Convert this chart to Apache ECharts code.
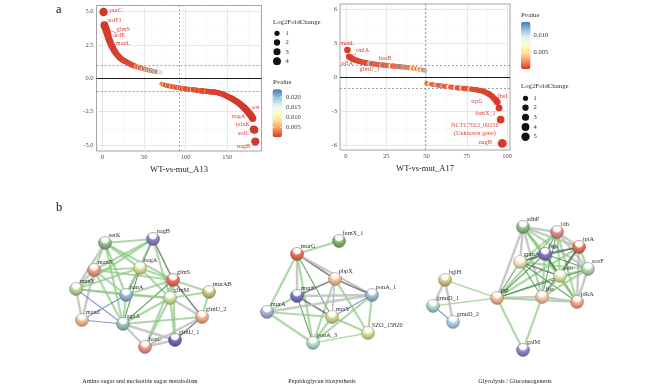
<!DOCTYPE html>
<html><head><meta charset="utf-8">
<script src="https://cdn.jsdelivr.net/npm/echarts@6/dist/echarts.min.js"></script>
<style>html,body{margin:0;padding:0;background:#fff}#c{width:660px;height:386px}</style>
</head><body><div id="c"></div>
<script>
// ---------------- DATA ----------------
// Panel a, left: WT-vs-mut_A13 (rank order, log2 fold change, p-value)
const fcA13 = [
 4.97,3.98,3.82,3.68,3.45,3.25,3.05,2.85,2.7,2.55,
 2.42,2.3,2.18,2.07,1.97,1.88,1.8,1.72,1.65,1.58,
 1.52,1.47,1.42,1.38,1.34,1.3,1.27,1.24,1.21,1.18,
 1.13,1.1,1.07,1.04,1.01,0.98,0.96,0.93,0.91,0.89,
 0.87,0.85,0.83,0.81,0.79,0.77,0.75,0.73,0.71,0.69,
 0.67,0.66,0.64,0.63,0.61,0.6,0.58,0.57,0.56,0.54,
 0.53,0.52,0.5,0.49,0.48,0.47,0.46,0.45,0.43,0.42,
 -0.42,-0.45,-0.47,-0.49,-0.51,-0.52,-0.54,-0.55,-0.57,-0.58,
 -0.59,-0.61,-0.62,-0.63,-0.64,-0.66,-0.67,-0.68,-0.69,-0.7,
 -0.71,-0.72,-0.73,-0.74,-0.75,-0.76,-0.77,-0.78,-0.79,-0.8,
 -0.81,-0.82,-0.82,-0.83,-0.84,-0.85,-0.85,-0.86,-0.87,-0.87,
 -0.88,-0.89,-0.9,-0.9,-0.91,-0.92,-0.93,-0.93,-0.94,-0.95,
 -0.95,-0.96,-0.97,-0.97,-0.98,-0.99,-0.99,-1.0,-1.01,-1.01,
 -1.02,-1.03,-1.03,-1.04,-1.05,-1.05,-1.06,-1.07,-1.08,-1.1,
 -1.12,-1.14,-1.16,-1.18,-1.2,-1.23,-1.26,-1.29,-1.32,-1.35,
 -1.38,-1.41,-1.44,-1.47,-1.5,-1.53,-1.57,-1.61,-1.65,-1.69,
 -1.73,-1.77,-1.81,-1.86,-1.91,-1.96,-2.01,-2.06,-2.12,-2.18,
 -2.24,-2.3,-2.37,-2.44,-2.51,-2.58,-2.66,-2.74,-2.82,-2.9,
 -3.02,-3.83,-3.88,-4.75
];
const pA13 = [
 0.0001,0.0002,0.0002,0.0001,0.0003,0.0002,0.0004,0.0003,0.0002,0.0004,
 0.0003,0.0005,0.0002,0.0004,0.0006,0.0003,0.0005,0.0004,0.0007,0.0005,
 0.0006,0.0004,0.0008,0.0005,0.0007,0.0006,0.0009,0.0005,0.0011,0.0007,
 0.0008,0.0006,0.0012,0.0007,0.0009,0.0008,0.0015,0.0009,0.0011,0.0008,
 0.0135,0.001,0.0012,0.0168,0.0009,0.0014,0.0189,0.001,0.0088,0.0011,
 0.0205,0.0012,0.0122,0.0013,0.0176,0.001,0.0098,0.0215,0.0012,0.0156,
 0.0011,0.0182,0.0019,0.0142,0.0012,0.0198,0.0015,0.0164,0.0118,0.0172,
 0.0013,0.006,0.0011,0.009,0.0012,0.0018,0.001,0.007,0.0013,0.0011,
 0.0022,0.0009,0.008,0.0012,0.0014,0.001,0.006,0.0011,0.0009,0.0018,
 0.001,0.009,0.0012,0.0009,0.005,0.0011,0.0009,0.007,0.0012,0.0008,
 0.0015,0.001,0.0009,0.005,0.0011,0.0008,0.0012,0.008,0.0009,0.0008,
 0.0012,0.0008,0.004,0.0007,0.001,0.0009,0.0007,0.004,0.0008,0.0009,
 0.0006,0.0011,0.0007,0.0006,0.005,0.0007,0.0008,0.0005,0.0007,0.0006,
 0.0005,0.0008,0.0006,0.0005,0.0007,0.0005,0.0004,0.0006,0.0005,0.0004,
 0.0005,0.0004,0.0004,0.0005,0.0004,0.0003,0.0004,0.0003,0.0003,0.0004,
 0.0003,0.0004,0.0002,0.0003,0.0003,0.0002,0.0003,0.0002,0.0002,0.0003,
 0.0002,0.0002,0.0002,0.0001,0.0002,0.0001,0.0002,0.0001,0.0001,0.0002,
 0.0001,0.0001,0.0001,0.0001,0.0001,0.0001,0.0001,0.0001,0.0001,0.0001,
 0.0001,0.0001,0.0001,0.0001
];
const genesA13 = [[1,'purC'],[2,'ardF1'],[4,'glmS'],[6,'ardE'],[8,'manL'],[180,'pst'],[181,'nagA'],[182,'pdxK'],[183,'ardC'],[184,'nagB']];
const midA13 = 92;

// Panel a, right: WT-vs-mut_A17
const fcA17 = [
 2.38,1.8,1.72,1.62,1.55,1.5,1.45,1.41,1.37,1.33,
 1.3,1.27,1.25,1.22,1.2,1.18,1.16,1.14,1.12,1.1,
 1.09,1.07,1.06,1.04,1.03,1.01,1.0,0.99,0.98,0.97,
 0.95,0.94,0.92,0.91,0.89,0.88,0.86,0.84,0.82,0.8,
 0.78,0.76,0.74,0.72,0.7,0.67,0.64,0.61,0.57,
 -0.56,-0.59,-0.62,-0.64,-0.67,-0.69,-0.71,-0.73,-0.75,-0.77,
 -0.79,-0.81,-0.83,-0.85,-0.87,-0.89,-0.91,-0.92,-0.94,-0.95,
 -0.97,-0.98,-0.99,-1.0,-1.02,-1.03,-1.04,-1.06,-1.07,-1.09,
 -1.11,-1.13,-1.16,-1.19,-1.22,-1.26,-1.31,-1.37,-1.44,-1.52,
 -1.62,-1.75,-1.9,-2.05,-2.2,-2.74,-3.77,-5.86
];
const pA17 = [
 0.0001,0.0002,0.0003,0.0002,0.0004,0.0003,0.0005,0.0004,0.0006,0.0005,
 0.0007,0.0008,0.0006,0.0009,0.0112,0.001,0.0008,0.0012,0.0009,0.0011,
 0.0008,0.0121,0.0013,0.001,0.0015,0.0009,0.0014,0.0092,0.0011,0.0016,
 0.0012,0.0018,0.0131,0.0014,0.0017,0.0124,0.002,0.0015,0.0022,0.0018,
 0.0065,0.0016,0.0052,0.0014,0.0078,0.002,0.0058,0.0017,0.0118,
 0.0018,0.0013,0.0052,0.0015,0.0012,0.0017,0.0112,0.0014,0.0011,0.0016,
 0.0122,0.0013,0.001,0.0015,0.0068,0.001,0.0013,0.0008,0.0098,0.0011,
 0.0008,0.0012,0.0045,0.0009,0.0007,0.001,0.0006,0.0038,0.0008,0.0005,
 0.0007,0.0004,0.0006,0.0005,0.0004,0.0005,0.0003,0.0004,0.0003,0.0003,
 0.0002,0.0003,0.0002,0.0002,0.0001,0.0001,0.0001,0.0001
];
const genesA17 = [[1,'manL'],[2,'rmlA'],[4,'pflA'],[8,'glmU_1'],[20,'hasB'],[93,'trpG'],[94,'fhsI'],[95,'femX_1'],[96,'NCTC7022_00256\n(Unknown gene)'],[97,'nagB']];
const midA17 = 49.5;

const xTicksA13 = [0,50,100,150];
const yTicksA13 = [-5,-2.5,0,2.5,5];
const xTicksA17 = [0,25,50,75,100];
const yTicksA17 = [-6,-3,0,3,6];
const sizeBreaksA13 = [1,2,3,4];
const sizeBreaksA17 = [1,2,3,4,5];
const pBreaksA13 = [0.005,0.010,0.015,0.020];
const pBreaksA17 = [0.005,0.010];

// Panel b: STRING networks  [gene, x, y] on a page-sized value scale
const net1Nodes = [['serK',105,243],['nagB',153,239],['manX',94,270],['nagA',140,268],['glmS',173,280],['manY',76,289],['nanA',126,295],['glmM',170,298],['murAB',209,292],['manZ',82,320],['agaA',123,324],['glmU_2',202,317],['glmU_1',175,340],['hasC',145,347]];
const net1Edges = [['serK','nagB','g'],['serK','manX','g'],['serK','nagA','g'],['serK','glmS','g'],['serK','manY','y'],['serK','nanA','g'],['serK','agaA','g'],
 ['nagB','nagA','k'],['nagB','glmS','k'],['nagB','manX','g'],['nagB','nanA','g'],['nagB','manY','g'],['nagB','glmM','g'],
 ['manX','manY','y'],['manX','manZ','y'],['manX','nagA','g'],['manX','nanA','g'],['manX','agaA','g'],['manX','glmS','g'],
 ['nagA','glmS','g'],['nagA','nanA','g'],['nagA','glmM','g'],['nagA','agaA','d'],['nagA','manY','g'],
 ['glmS','glmM','g'],['glmS','glmU_2','k'],['glmS','nanA','g'],['glmS','agaA','d'],['glmS','hasC','g'],['glmS','glmU_1','g'],['glmS','murAB','g'],
 ['manY','manZ','y'],['manY','nanA','g'],['manY','agaA','b'],['manY','glmM','g'],
 ['nanA','glmM','g'],['nanA','agaA','g'],['nanA','manZ','b'],
 ['glmM','murAB','g'],['glmM','glmU_2','y'],['glmM','glmU_1','g'],['glmM','hasC','g'],['glmM','agaA','g'],
 ['murAB','glmU_2','g'],['manZ','agaA','b'],['agaA','hasC','y'],['agaA','glmU_1','y'],['glmU_2','glmU_1','k'],['glmU_2','hasC','y'],['hasC','glmU_1','y'],['agaA','glmU_2','g']];
const net2Nodes = [['femX_1',339,241],['murG',297,254],['pbpX',335,279],['murE',297,296],['ponA_1',372,295],['murA',267,312],['mraY',332,317],['SZO_15820',368,333],['ponA_3',313,343]];
const net2Edges = [['femX_1','murG','g'],['murG','pbpX','k'],['murG','murE','y'],['murG','murA','g'],['murG','mraY','d'],['murG','ponA_3','g'],['murG','ponA_1','y'],
 ['pbpX','murE','k'],['pbpX','ponA_1','k'],['pbpX','mraY','p'],['pbpX','ponA_3','g'],['pbpX','SZO_15820','g'],
 ['murE','ponA_1','y'],['murE','murA','g'],['murE','mraY','k'],['murE','ponA_3','d'],
 ['murA','mraY','g'],['murA','ponA_3','g'],['murA','ponA_1','y'],['mraY','ponA_1','b'],['mraY','ponA_3','g'],['mraY','SZO_15820','g'],
 ['ponA_1','SZO_15820','g'],['ponA_1','ponA_3','g'],['ponA_3','SZO_15820','l']];
const net3Nodes = [['adhP',523,227],['ldh',557,232],['tpiA',579,247],['gpmA',520,262],['pgk',545,254],['aceF',588,269],['eno',560,276],['pgi',497,298],['fba',542,297],['pfkA',577,302],['bglH',445,280],['gmuD_1',433,306],['gmuD_2',453,322],['galM',523,350]];
const net3Edges = [
 ['adhP','ldh','y'],['adhP','tpiA','g'],['adhP','gpmA','y'],['adhP','pgk','g'],['adhP','aceF','y'],['adhP','eno','g'],['adhP','pgi','y'],['adhP','fba','y'],['adhP','pfkA','g'],
 ['ldh','tpiA','y'],['ldh','gpmA','g'],['ldh','pgk','d'],['ldh','aceF','y'],['ldh','eno','g'],['ldh','pgi','g'],['ldh','fba','d'],['ldh','pfkA','g'],
 ['tpiA','gpmA','d'],['tpiA','pgk','k'],['tpiA','aceF','g'],['tpiA','eno','d'],['tpiA','pgi','g'],['tpiA','fba','k'],['tpiA','pfkA','y'],
 ['gpmA','pgk','k'],['gpmA','aceF','g'],['gpmA','eno','k'],['gpmA','pgi','d'],['gpmA','fba','d'],['gpmA','pfkA','d'],
 ['pgk','aceF','d'],['pgk','eno','k'],['pgk','pgi','d'],['pgk','fba','g'],['pgk','pfkA','d'],
 ['aceF','eno','g'],['aceF','pgi','d'],['aceF','fba','g'],['aceF','pfkA','y'],
 ['eno','pgi','d'],['eno','fba','g'],['eno','pfkA','g'],
 ['pgi','fba','y'],['pgi','pfkA','g'],['fba','pfkA','y'],
 ['pgi','bglH','l'],['pgi','gmuD_1','l'],['pgi','galM','g'],['fba','galM','g'],['bglH','gmuD_1','y'],['bglH','gmuD_2','y'],['gmuD_1','gmuD_2','b']];
const netTitles = ['Amino sugar and nucleotide sugar metabolism','Peptidoglycan biosynthesis','Glycolysis / Gluconeogenesis'];

// ---------------- STYLE ----------------
const FONT = '"Liberation Serif", "Times New Roman", serif';
const RED_TXT = '#d9473b';
const AX_TXT = '#4d4d4d';
const RDYLBU = ['#d3362a','#fc8d59','#fee090','#ffffbf','#e0f3f8','#91bfdb','#4575b4'];
const sizeOf = v => 2.6 + 2.6 * Math.sqrt(v);

const labelStyleA13 = {
 purC:{position:'right',distance:2,offset:[0,-2]},
 ardF1:{position:'right',distance:0,offset:[-1,-5]},
 glmS:{position:'right',distance:7,offset:[0,0],line:true},
 ardE:{position:'right',distance:2,offset:[0,0]},
 manL:{position:'right',distance:3,offset:[0,3]},
 pst:{position:'top',distance:2,offset:[4,0]},
 nagA:{position:'left',distance:4,offset:[0,-2]},
 pdxK:{position:'left',distance:0,offset:[0,-5]},
 ardC:{position:'left',distance:1,offset:[0,3]},
 nagB:{position:'left',distance:1,offset:[0,4.5]}
};
const labelStyleA17 = {
 'manL':{position:'top',distance:0,offset:[0,0]},
 'rmlA':{position:'right',distance:4,offset:[0,-6.5],line:true},
 'pflA':{position:'bottom',distance:-2,offset:[-5,0]},
 'glmU_1':{position:'bottom',distance:2,offset:[11,0]},
 'hasB':{position:'top',distance:0,offset:[7,0]},
 'trpG':{position:'left',distance:10,offset:[0,1.5],line:true},
 'fhsI':{position:'top',distance:-1,offset:[5,0]},
 'femX_1':{position:'left',distance:0,offset:[0,5.5]},
 'NCTC7022_00256\n(Unknown gene)':{position:'left',distance:1,offset:[-21,9.5],align:'center'},
 'nagB':{position:'left',distance:6,offset:[0,-1]}
};

const nodeColors = {
 serK:'#94b88a', nagB:'#8b7fc2', manX:'#ea9a84', nagA:'#dcdc98', glmS:'#e5705c', manY:'#b9d28e', nanA:'#93b3d6', glmM:'#cfe0a0', murAB:'#c6c277', manZ:'#ebbb92', agaA:'#93c2aa', glmU_2:'#f2ac84', glmU_1:'#6d69ba', hasC:'#e99488',
 femX_1:'#7fb466', murG:'#e27058', pbpX:'#f2bc94', murE:'#7d73ba', ponA_1:'#9dbad2', murA:'#a7acd8', mraY:'#cdd58d', SZO_15820:'#d3db9c', ponA_3:'#addac9',
 adhP:'#93bb84', ldh:'#d98c8a', tpiA:'#e2745e', gpmA:'#ebe4b4', pgk:'#8474c2', aceF:'#b4d3ac', eno:'#dbe3ab', pgi:'#f2b494', fba:'#f2c4a4', pfkA:'#f2a484', bglH:'#d3c584', gmuD_1:'#a4d3c3', gmuD_2:'#abcbea', galM:'#9484c3'
};
const EDGE = {
 g:{color:'#8cc783',width:2.2,opacity:0.7},
 d:{color:'#3f8f45',width:1.1,opacity:0.8},
 k:{color:'#4a4a4a',width:1.6,opacity:0.65},
 y:{color:'#bcbcbc',width:2.4,opacity:0.8},
 b:{color:'#6f86d6',width:1.1,opacity:0.85},
 p:{color:'#b58ad0',width:1.4,opacity:0.75},
 l:{color:'#a9d39a',width:1.5,opacity:0.85}
};

function shade(hex, f) {
  const n = parseInt(hex.slice(1), 16);
  let r = n >> 16, g = (n >> 8) & 255, b = n & 255;
  r = Math.round(r * (1 + f)); g = Math.round(g * (1 + f)); b = Math.round(b * (1 + f));
  const c = v => Math.max(0, Math.min(255, v)).toString(16).padStart(2, '0');
  return '#' + c(r) + c(g) + c(b);
}

function buildPoints(fc, p, genes, styles) {
  return fc.map((v, i) => {
    const item = { value: [i + 1, v, p[i]] };
    const g = genes.find(d => d[0] === i + 1);
    if (g) {
      const s = styles[g[1]] || {};
      item.label = { show: true, formatter: g[1], position: s.position, distance: s.distance, offset: s.offset,
        color: RED_TXT, fontSize: 6.2, fontFamily: FONT, lineHeight: 7.5, align: s.align };
      if (s.line) item.labelLine = { show: true, lineStyle: { color: RED_TXT, width: 0.6 } };
    }
    return item;
  });
}

function minorOf(ticks, min, max) {
  const step = ticks[1] - ticks[0], out = [];
  ticks.forEach(t => [t - step / 2, t + step / 2].forEach(v => { if (v > min && v < max && out.indexOf(v) < 0) out.push(v); }));
  return out;
}

function frameSeries(idx, xT, yT, xr, yr, vline) {
  const d = [];
  const L = (k, v, color, width, type) => ({ [k]: v, lineStyle: { color, width, type } });
  minorOf(xT, xr[0], xr[1]).forEach(v => d.push(L('xAxis', v, '#f3f3f3', 0.5, 'solid')));
  minorOf(yT, yr[0], yr[1]).forEach(v => d.push(L('yAxis', v, '#f3f3f3', 0.5, 'solid')));
  xT.forEach(v => d.push(L('xAxis', v, '#e2e2e2', 0.8, 'solid')));
  yT.forEach(v => d.push(L('yAxis', v, '#e2e2e2', 0.8, 'solid')));
  d.push(L('yAxis', 1, '#8a8a8a', 0.8, [2, 2]));
  d.push(L('yAxis', -1, '#8a8a8a', 0.8, [2, 2]));
  d.push(L('xAxis', vline, '#8a8a8a', 0.8, [2, 2]));
  d.push(L('yAxis', 0, '#1a1a1a', 1.2, 'solid'));
  return { type: 'scatter', xAxisIndex: idx, yAxisIndex: idx, data: [], silent: true, z: 1,
    markLine: { z: 1, silent: true, symbol: ['none', 'none'], label: { show: false }, animation: false, emphasis: { disabled: true }, data: d } };
}

function xAx(gi, min, max, ticks, name) {
  return { gridIndex: gi, type: 'value', min, max, splitLine: { show: false }, axisLine: { show: false },
    axisTick: { show: true, customValues: ticks, length: 2, lineStyle: { color: AX_TXT, width: 0.6 } },
    axisLabel: { customValues: ticks, fontSize: 6.5, color: AX_TXT, fontFamily: FONT, margin: 3 },
    name, nameLocation: 'middle', nameGap: 14, nameTextStyle: { fontSize: 8.5, fontFamily: FONT, color: '#222' } };
}
function yAx(gi, min, max, ticks, fmt) {
  return { gridIndex: gi, type: 'value', min, max, splitLine: { show: false }, axisLine: { show: false },
    axisTick: { show: true, customValues: ticks, length: 2, lineStyle: { color: AX_TXT, width: 0.6 } },
    axisLabel: { customValues: ticks, fontSize: 6.5, color: AX_TXT, fontFamily: FONT, margin: 3, formatter: fmt } };
}

function graphSeries(nodes, edges) {
  return {
    type: 'graph', coordinateSystem: 'cartesian2d', xAxisIndex: 2, yAxisIndex: 2, symbolSize: 13,
    silent: true, animation: false, emphasis: { disabled: true }, z: 3,
    data: nodes.map(n => {
      const c = nodeColors[n[0]];
      return { name: n[0], value: [n[1], n[2]], itemStyle: {
        color: { type: 'radial', x: 0.5, y: 0.22, r: 0.8, colorStops: [
          { offset: 0, color: '#ffffff' }, { offset: 0.32, color: '#fafafa' }, { offset: 0.45, color: shade(c, 0.05) }, { offset: 1, color: shade(c, -0.3) }] },
        borderColor: shade(c, -0.35), borderWidth: 0.5 } };
    }),
    links: edges.map(e => ({ source: e[0], target: e[1], lineStyle: Object.assign({ curveness: 0 }, EDGE[e[2]]) })),
    label: { show: true, position: 'right', distance: 0, offset: [-3, -8], fontSize: 6.3, fontFamily: FONT, color: '#333' }
  };
}

// legends (graphic)
function txt(x, y, s, size, color, align) {
  return { type: 'text', x, y, z: 20, style: { text: s, fill: color || '#333', font: (size || 6.5) + 'px ' + FONT, textAlign: align || 'left', textVerticalAlign: 'middle', verticalAlign: 'middle' } };
}
const graphics = [];
graphics.push(txt(56, 10, 'a', 12.5, '#111'));
graphics.push(txt(56, 208, 'b', 12.5, '#111'));
// A13 legends
graphics.push(txt(273, 22, 'Log2FoldChange', 6.8, '#333'));
const sizeYA13 = [33.3, 42.5, 51.8, 61.2];
sizeBreaksA13.forEach((v, i) => {
  graphics.push({ type: 'circle', z: 20, shape: { cx: 277, cy: sizeYA13[i], r: sizeOf(v) / 2 }, style: { fill: '#111' } });
  graphics.push(txt(285.5, sizeYA13[i], String(v), 6.5, '#333'));
});
graphics.push(txt(273, 82.5, 'Pvalue', 6.8, '#333'));
const cbA13 = { left: 272.5, top: 89.3, w: 9.5, h: 48, max: 0.024 };
pBreaksA13.forEach(v => {
  const y = cbA13.top + (1 - v / cbA13.max) * cbA13.h;
  graphics.push(txt(286, y, v.toFixed(3), 6.5, '#333'));
  graphics.push({ type: 'line', z: 20, shape: { x1: cbA13.left, y1: y, x2: cbA13.left + 2, y2: y }, style: { stroke: '#fff', lineWidth: 0.7 } });
  graphics.push({ type: 'line', z: 20, shape: { x1: cbA13.left + cbA13.w - 2, y1: y, x2: cbA13.left + cbA13.w, y2: y }, style: { stroke: '#fff', lineWidth: 0.7 } });
});
// A17 legends
graphics.push(txt(521, 15, 'Pvalue', 6.8, '#333'));
const cbA17 = { left: 521, top: 21.7, w: 9.5, h: 47.6, max: 0.0142 };
pBreaksA17.forEach(v => {
  const y = cbA17.top + (1 - v / cbA17.max) * cbA17.h;
  graphics.push(txt(533.5, y, v.toFixed(3), 6.5, '#333'));
  graphics.push({ type: 'line', z: 20, shape: { x1: cbA17.left, y1: y, x2: cbA17.left + 2, y2: y }, style: { stroke: '#fff', lineWidth: 0.7 } });
  graphics.push({ type: 'line', z: 20, shape: { x1: cbA17.left + cbA17.w - 2, y1: y, x2: cbA17.left + cbA17.w, y2: y }, style: { stroke: '#fff', lineWidth: 0.7 } });
});
graphics.push(txt(521, 86, 'Log2FoldChange', 6.8, '#333'));
const sizeYA17 = [98.3, 107.7, 117.3, 127, 136.7];
sizeBreaksA17.forEach((v, i) => {
  graphics.push({ type: 'circle', z: 20, shape: { cx: 525.5, cy: sizeYA17[i], r: sizeOf(v) / 2 }, style: { fill: '#111' } });
  graphics.push(txt(533.5, sizeYA17[i], String(v), 6.5, '#333'));
});
// network titles
const titleX = [140, 322, 515];
netTitles.forEach((t, i) => graphics.push(txt(titleX[i], 381.5, t, 6.2, '#222', 'center')));

const chart = echarts.init(document.getElementById('c'), null, { renderer: 'canvas' });
chart.setOption({
  backgroundColor: '#ffffff',
  animation: false,
  grid: [
    { left: 96.5, top: 5.5, width: 165, height: 145.5, show: true, borderColor: '#8c8c8c', borderWidth: 0.8, backgroundColor: 'transparent' },
    { left: 340, top: 4, width: 170, height: 146, show: true, borderColor: '#8c8c8c', borderWidth: 0.8, backgroundColor: 'transparent' },
    { left: 0, top: 200, width: 660, height: 186, show: false }
  ],
  xAxis: [
    xAx(0, -7.5, 191.5, xTicksA13, 'WT-vs-mut_A13'),
    xAx(1, -3.6, 101.8, xTicksA17, 'WT-vs-mut_A17'),
    { gridIndex: 2, type: 'value', min: 0, max: 660, show: false }
  ],
  yAxis: [
    yAx(0, -5.46, 5.46, yTicksA13, v => v.toFixed(1)),
    yAx(1, -6.45, 6.45, yTicksA17, v => String(v)),
    { gridIndex: 2, type: 'value', min: 200, max: 386, inverse: true, show: false }
  ],
  visualMap: [
    { type: 'continuous', seriesIndex: 1, dimension: 2, min: 0, max: cbA13.max, inRange: { color: RDYLBU },
      left: cbA13.left, top: cbA13.top, itemWidth: cbA13.w, itemHeight: cbA13.h, padding: 0, calculable: false, hoverLink: false, text: null },
    { type: 'continuous', seriesIndex: 3, dimension: 2, min: 0, max: cbA17.max, inRange: { color: RDYLBU },
      left: cbA17.left, top: cbA17.top, itemWidth: cbA17.w, itemHeight: cbA17.h, padding: 0, calculable: false, hoverLink: false, text: null }
  ],
  series: [
    frameSeries(0, xTicksA13, yTicksA13, [-7.5, 191.5], [-5.46, 5.46], midA13),
    { type: 'scatter', xAxisIndex: 0, yAxisIndex: 0, z: 3, zlevel: 0, clip: false, silent: true,
      symbolSize: v => sizeOf(Math.abs(v[1])), itemStyle: { opacity: 1 },
      data: buildPoints(fcA13, pA13, genesA13, labelStyleA13) },
    frameSeries(1, xTicksA17, yTicksA17, [-3.6, 101.8], [-6.45, 6.45], midA17),
    { type: 'scatter', xAxisIndex: 1, yAxisIndex: 1, z: 3, zlevel: 0, clip: false, silent: true,
      symbolSize: v => sizeOf(Math.abs(v[1])), itemStyle: { opacity: 1 },
      data: buildPoints(fcA17, pA17, genesA17, labelStyleA17) },
    graphSeries(net1Nodes, net1Edges),
    graphSeries(net2Nodes, net2Edges),
    graphSeries(net3Nodes, net3Edges)
  ],
  graphic: graphics
});
</script>
</body></html>
